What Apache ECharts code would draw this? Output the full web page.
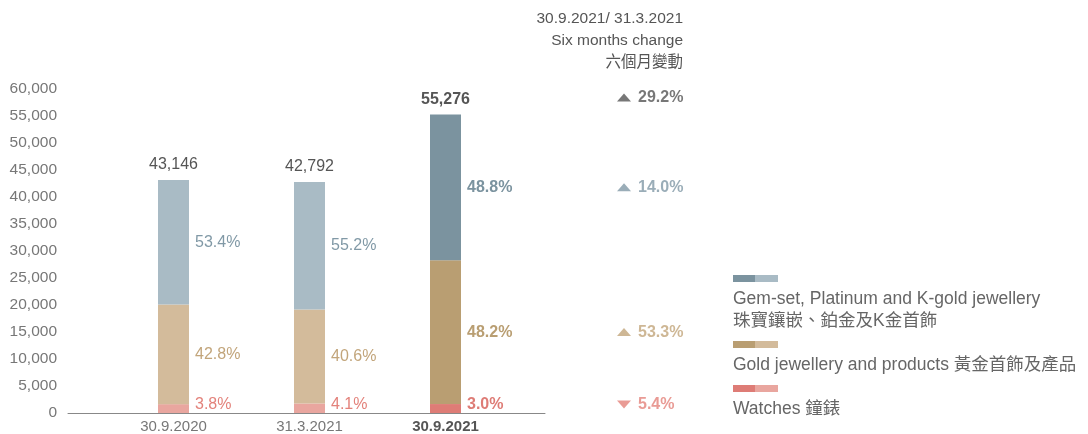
<!DOCTYPE html>
<html>
<head>
<meta charset="utf-8">
<script src="https://cdn.jsdelivr.net/npm/echarts@6/dist/echarts.min.js"></script>
<style>
  html, body { margin: 0; padding: 0; background: #fff; }
  #chart { width: 1088px; height: 434px; }
</style>
</head>
<body>
<div id="chart"></div>
<script>
// Inventory by product category (HK$ million)
const categories = ['30.9.2020', '31.3.2021', '30.9.2021'];
const totals = [43146, 42792, 55276];
const watches = [1639, 1762, 1658];
const gold = [18467, 17390, 26643];
const gem = [23040, 23640, 26975];
const watchesShare = ['3.8%', '4.1%', '3.0%'];
const goldShare = ['42.8%', '40.6%', '48.2%'];
const gemShare = ['53.4%', '55.2%', '48.8%'];
// Six months change 30.9.2021 vs 31.3.2021: total, gem-set, gold, watches
const changeNames = ['total', 'gem', 'gold', 'watches'];
const changeValues = [29.2, 14.0, 53.3, -5.4];
const headerLines = ['30.9.2021/ 31.3.2021', 'Six months change', '六個月變動'];
const legendLines = [
  ['Gem-set, Platinum and K-gold jewellery', '珠寶鑲嵌、鉑金及K金首飾'],
  ['Gold jewellery and products 黃金首飾及產品'],
  ['Watches 鐘錶']
];

const FONT = "'Liberation Sans', 'Noto Sans CJK TC', sans-serif";
const palette = {
  gem:     { light: '#a9bbc5', dark: '#7b939f', text: '#8199a6' },
  gold:    { light: '#d3bb9b', dark: '#b99e72', text: '#c2a57b' },
  watches: { light: '#e9a69f', dark: '#de7c76', text: '#e3827b' }
};
const LATEST = categories.length - 1;

function segment(name, values, shares, colors, labelDy) {
  return {
    type: 'bar', name: name, stack: 'share', xAxisIndex: 0, yAxisIndex: 0,
    barWidth: 31, barGap: '-100%', silent: true,
    data: values.map((v, i) => ({
      value: v,
      itemStyle: { color: i === LATEST ? colors.dark : colors.light },
      label: {
        color: i === LATEST ? colors.dark : colors.text,
        fontWeight: i === LATEST ? 'bold' : 'normal'
      }
    })),
    label: {
      show: true, position: 'right', distance: 6, offset: [0, labelDy],
      fontFamily: FONT, fontSize: 16,
      formatter: p => shares[p.dataIndex]
    }
  };
}

// Vertical anchor for each change marker on the latest bar
const w2 = watches[LATEST], g2 = gold[LATEST], s2 = gem[LATEST];
const changeY = {
  total: totals[LATEST],
  gem: w2 + g2 + s2 / 2,
  gold: w2 + g2 / 2,
  watches: w2 / 2
};
const changeColor = {
  total: '#555555', gem: palette.gem.text, gold: palette.gold.text, watches: palette.watches.text
};
const changeDy = { total: -17, gem: 0, gold: 0, watches: -4 };

const chart = echarts.init(document.getElementById('chart'), null, { renderer: 'canvas' });

const legendGraphics = [];
const legendKeys = ['gem', 'gold', 'watches'];
const legendTop = [275, 341, 385];
legendKeys.forEach((k, idx) => {
  const y = legendTop[idx];
  legendGraphics.push({ type: 'rect', shape: { x: 733, y: y, width: 22, height: 7 }, style: { fill: palette[k].dark }, silent: true });
  legendGraphics.push({ type: 'rect', shape: { x: 755, y: y, width: 23, height: 7 }, style: { fill: palette[k].light }, silent: true });
  legendGraphics.push({
    type: 'text', x: 733, y: y + 13, silent: true,
    style: { text: legendLines[idx].join('\n'), font: '17.5px ' + FONT, fill: '#666', lineHeight: 22, align: 'left', verticalAlign: 'top' }
  });
});

const option = {
  animation: false,
  backgroundColor: '#fff',
  grid: [
    { left: 105.5, width: 408, top: 89, height: 324 },
    { left: 68, width: 477, top: 89, height: 324 }
  ],
  xAxis: [
    {
      type: 'category', gridIndex: 0, data: categories,
      axisLine: { show: false }, axisTick: { show: false },
      axisLabel: {
        margin: 6, fontFamily: FONT, fontSize: 15, color: '#777',
        formatter: (v, i) => i === LATEST ? '{b|' + v + '}' : v,
        rich: { b: { fontFamily: FONT, fontSize: 15, fontWeight: 'bold', color: '#555' } }
      }
    },
    {
      type: 'value', gridIndex: 1, min: 0, max: 1,
      axisLine: { show: true, lineStyle: { color: '#888', width: 1 } },
      axisTick: { show: false }, axisLabel: { show: false }, splitLine: { show: false }
    }
  ],
  yAxis: [
    { type: 'value', gridIndex: 0, min: 0, max: 60000, interval: 5000, show: false },
    {
      type: 'value', gridIndex: 1, min: 0, max: 60000, interval: 5000,
      axisLine: { show: false }, axisTick: { show: false }, splitLine: { show: false },
      axisLabel: {
        margin: 11, fontFamily: FONT, fontSize: 15.5, color: '#777',
        formatter: v => v.toLocaleString('en-US')
      }
    }
  ],
  series: [
    segment('Watches 鐘錶', watches, watchesShare, palette.watches, -4),
    segment('Gold jewellery and products 黃金首飾及產品', gold, goldShare, palette.gold, 0),
    segment('Gem-set, Platinum and K-gold jewellery 珠寶鑲嵌、鉑金及K金首飾', gem, gemShare, palette.gem, 0),
    {
      type: 'bar', name: 'Total', stack: 'total', xAxisIndex: 0, yAxisIndex: 0,
      barWidth: 31, barGap: '-100%', silent: true, z: 1,
      itemStyle: { color: 'rgba(0,0,0,0)' },
      data: totals.map((v, i) => ({
        value: v,
        label: { fontWeight: i === LATEST ? 'bold' : 'normal' }
      })),
      label: {
        show: true, position: 'top', distance: 7,
        fontFamily: FONT, fontSize: 16, color: '#555',
        formatter: p => p.value.toLocaleString('en-US')
      }
    },
    {
      type: 'scatter', name: 'Six months change', xAxisIndex: 0, yAxisIndex: 0, silent: true,
      data: changeNames.map((k, i) => ({
        value: [LATEST, changeY[k]],
        symbol: 'triangle',
        symbolSize: [14, 8],
        symbolRotate: changeValues[i] < 0 ? 180 : 0,
        symbolOffset: [178.5, changeDy[k]],
        itemStyle: { color: changeColor[k] },
        label: { color: changeColor[k] }
      })),
      label: {
        show: true, position: 'right', distance: 7,
        fontFamily: FONT, fontSize: 16, fontWeight: 'bold',
        formatter: p => Math.abs(changeValues[p.dataIndex]).toFixed(1) + '%'
      }
    }
  ],
  graphic: [
    {
      type: 'text', x: 683, y: 8, silent: true,
      style: { text: headerLines.join('\n'), font: '15.5px ' + FONT, fill: '#555', lineHeight: 22, align: 'right', verticalAlign: 'top' }
    }
  ].concat(legendGraphics)
};

chart.setOption(option);
</script>
</body>
</html>
